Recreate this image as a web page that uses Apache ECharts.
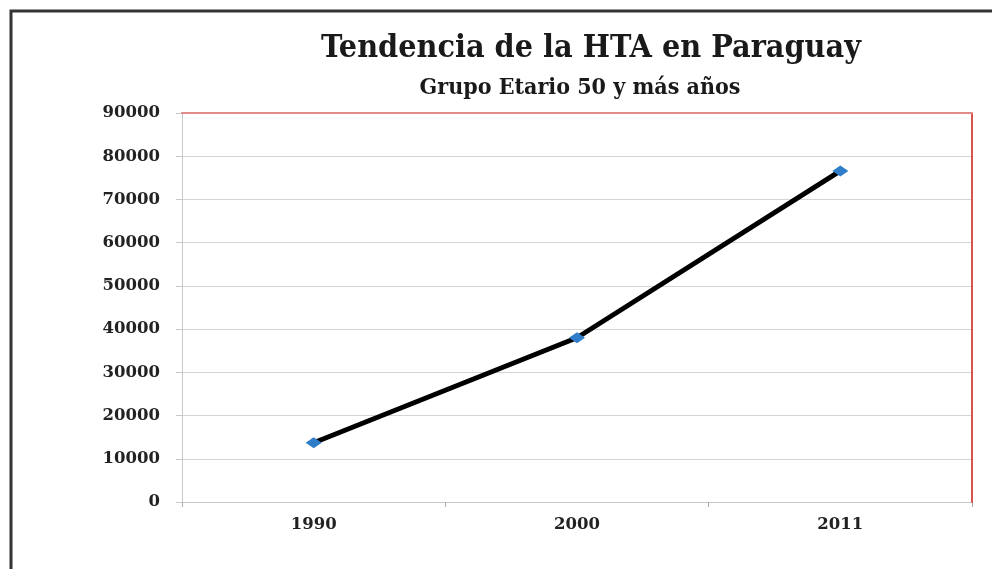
<!DOCTYPE html>
<html>
<head>
<meta charset="utf-8">
<script src="https://cdn.jsdelivr.net/npm/echarts@6/dist/echarts.min.js"></script>
<style>
  html, body { margin: 0; padding: 0; background: #fff; }
  #chart { width: 992px; height: 569px; }
</style>
</head>
<body>
<div id="chart"></div>
<script>
// datos
const years = ['1990', '2000', '2011'];
const casos = [13700, 38000, 76600];
const yTicks = [0, 90000, 10000]; // min, max, intervalo

const serif = 'DejaVu Serif';
const labelStyle = { fontFamily: serif, fontWeight: 'bold', fontSize: 16.5, color: '#222' };

const myChart = echarts.init(document.getElementById('chart'));
const option = {
  animation: false,
  backgroundColor: '#fff',
  title: [
    {
      text: 'Tendencia de la HTA en Paraguay',
      left: 586,
      top: 28,
      textAlign: 'center',
      textStyle: { fontFamily: 'DejaVu Serif Condensed', fontWeight: 'bold', fontSize: 32, color: '#1a1a1a' },
    },
    {
      text: 'Grupo Etario 50 y más años',
      left: 575,
      top: 72,
      textAlign: 'center',
      textStyle: { fontFamily: 'DejaVu Serif Condensed', fontWeight: 'bold', fontSize: 23, color: '#1a1a1a' },
    },
  ],
  graphic: [
    {
      type: 'polyline',
      shape: { points: [[11, 569], [11, 11], [992, 11]] },
      style: { stroke: '#333', lineWidth: 3, fill: null },
    },
  ],
  grid: { left: 182, right: 20, top: 113, bottom: 67 },
  xAxis: [
    {
      type: 'category',
      data: years,
      boundaryGap: true,
      axisLine: { lineStyle: { color: '#c8c8c8', width: 1 } },
      axisTick: { show: true, length: 5, lineStyle: { color: '#aaa' } },
      axisLabel: Object.assign({ margin: 14 }, labelStyle),
      splitLine: { show: false },
    },
    {
      type: 'category',
      data: years,
      position: 'top',
      z: 10,
      axisLine: { onZero: false, lineStyle: { color: '#e08a8a', width: 2 } },
      axisTick: { show: false },
      axisLabel: { show: false },
    },
  ],
  yAxis: [
    {
      type: 'value',
      min: yTicks[0],
      max: yTicks[1],
      interval: yTicks[2],
      axisLine: { show: true, lineStyle: { color: '#c8c8c8', width: 1 } },
      axisTick: { show: true, length: 6, lineStyle: { color: '#c8c8c8' } },
      axisLabel: Object.assign({ margin: 22, formatter: (v) => String(v) }, labelStyle),
      splitLine: { lineStyle: { color: '#d4d4d4', width: 1 } },
    },
    {
      type: 'value',
      position: 'right',
      min: yTicks[0],
      max: yTicks[1],
      interval: yTicks[2],
      z: 10,
      axisLine: { show: true, onZero: false, lineStyle: { color: '#d9534f', width: 2 } },
      axisTick: { show: false },
      axisLabel: { show: false },
      splitLine: { show: false },
    },
  ],
  series: [
    {
      name: 'HTA',
      type: 'line',
      data: casos,
      lineStyle: { color: '#000', width: 5 },
      symbol: 'diamond',
      symbolSize: [16, 11],
      itemStyle: { color: '#2f7dc9' },
      z: 5,
    },
  ],
};
myChart.setOption(option);
</script>
</body>
</html>
